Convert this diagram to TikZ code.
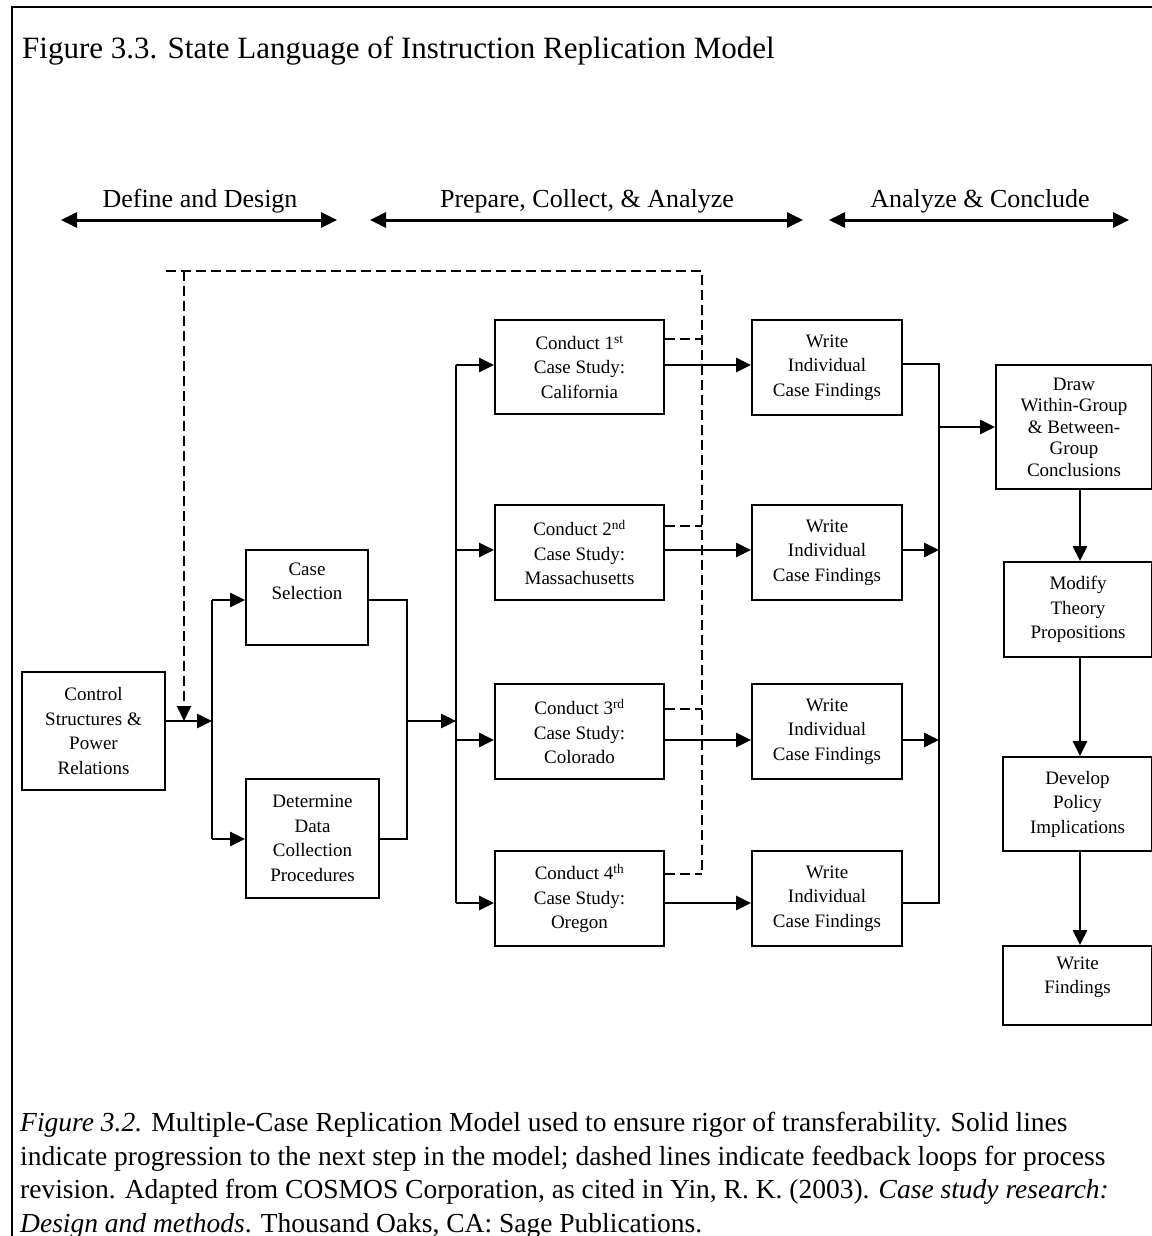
\documentclass[tikz,border=0pt]{standalone}
\usepackage{fontspec}
\setmainfont{Liberation Serif}
\usetikzlibrary{arrows.meta}
\newcommand\boxfont{\fontsize{19}{24.5}\selectfont}
\newcommand\tightboxfont{\fontsize{19}{21.5}\selectfont}

\begin{document}
\begin{tikzpicture}[x=1pt,y=-1pt,
  box/.style={draw, line width=1.8pt, align=center, inner sep=0pt, font=\boxfont},
  boxtext/.style={align=center, inner sep=0pt, font=\boxfont, anchor=base},
  tip/.style={-{Triangle[length=15pt,width=14pt]}},
  conn/.style={line width=2.6pt},
  flow/.style={conn, tip},
  feedback/.style={line width=2pt, dash pattern=on 10pt off 5pt},
  phase/.style={line width=3pt, {Triangle[length=16pt,width=15pt]}-{Triangle[length=16pt,width=15pt]}},
  phasetext/.style={font=\fontsize{26}{30}\selectfont, anchor=base, inner sep=0pt},
  captext/.style={font=\fontsize{27.5}{34}\selectfont, anchor=base west, inner sep=0pt},
]
\useasboundingbox (0,0) rectangle (1151,1236);

% page frame
\draw[line width=2pt] (12,1240) -- (12,7) -- (1160,7);

% title
\node[captext, font=\fontsize{31}{36}\selectfont] (title) at (22,59)
  {Figure 3.3. State Language of Instruction Replication Model};

% phase headings
\node[phasetext] (ph1) at (200,207) {Define and Design};
\node[phasetext] (ph2) at (587,207) {Prepare, Collect, \& Analyze};
\node[phasetext] (ph3) at (980,207) {Analyze \& Conclude};
\coordinate (ph1a) at (61,220);  \coordinate (ph1b) at (337,220);
\coordinate (ph2a) at (370,220); \coordinate (ph2b) at (803,220);
\coordinate (ph3a) at (829,220); \coordinate (ph3b) at (1129,220);
\draw[phase] (ph1a) -- (ph1b);
\draw[phase] (ph2a) -- (ph2b);
\draw[phase] (ph3a) -- (ph3b);

% boxes
\node[box, minimum width=143pt, minimum height=118pt] (ctrl) at (93.5,731)
  {Control\\Structures \&\\Power\\Relations};
\node[box, minimum width=122pt, minimum height=95pt] (cs) at (307,597.5) {};
\node[boxtext] (cstext) at ([yshift=-50.5pt]cs.north) {Case\\Selection};
\node[box, minimum width=133pt, minimum height=119pt] (dc) at (312.5,838.5)
  {Determine\\Data\\Collection\\Procedures};

\node[box, minimum width=169pt, minimum height=94pt] (c1) at (579.5,367)
  {Conduct 1\textsuperscript{st}\\Case Study:\\California};
\node[box, minimum width=169pt, minimum height=95pt] (c2) at (579.5,552.5)
  {Conduct 2\textsuperscript{nd}\\Case Study:\\Massachusetts};
\node[box, minimum width=169pt, minimum height=95pt] (c3) at (579.5,731.5)
  {Conduct 3\textsuperscript{rd}\\Case Study:\\Colorado};
\node[box, minimum width=169pt, minimum height=95pt] (c4) at (579.5,898.5)
  {Conduct 4\textsuperscript{th}\\Case Study:\\Oregon};

\node[box, minimum width=150pt, minimum height=95pt] (w1) at (827,367.5)
  {Write\\Individual\\Case Findings};
\node[box, minimum width=150pt, minimum height=95pt] (w2) at (827,552.5)
  {Write\\Individual\\Case Findings};
\node[box, minimum width=150pt, minimum height=95pt] (w3) at (827,731.5)
  {Write\\Individual\\Case Findings};
\node[box, minimum width=150pt, minimum height=95pt] (w4) at (827,898.5)
  {Write\\Individual\\Case Findings};

\node[box, font=\tightboxfont, minimum width=156pt, minimum height=124pt] (dr) at (1074,427)
  {Draw\\Within-Group\\\& Between-\\Group\\Conclusions};
\node[box, minimum width=148pt, minimum height=95pt] (mo) at (1078,609.5)
  {Modify\\Theory\\Propositions};
\node[box, minimum width=149pt, minimum height=94pt] (dv) at (1077.5,804)
  {Develop\\Policy\\Implications};
\node[box, minimum width=149pt, minimum height=79pt] (wf) at (1077.5,985.5) {};
\node[boxtext] (wftext) at ([yshift=-48.5pt]wf.north) {Write\\Findings};

% junction points
\coordinate (ja) at (212,600);  \coordinate (jb) at (212,839);  \coordinate (jin) at (212,721);
\coordinate (ka) at (407,600);  \coordinate (kb) at (407,839);  \coordinate (kout) at (407,721);
\coordinate (la) at (456,365);  \coordinate (lb) at (456,550);
\coordinate (lc) at (456,740);  \coordinate (ld) at (456,903);  \coordinate (lin) at (456,721);
\coordinate (ma) at (939,364);  \coordinate (mb) at (939,550);
\coordinate (mc) at (939,740);  \coordinate (md) at (939,903);  \coordinate (mout) at (939,427);
\coordinate (col) at (1080,0);

% feedback loops (dashed)
\coordinate (fa) at (166,271); \coordinate (fb) at (184,271);
\coordinate (fc) at (702,271); \coordinate (fd) at (702,874);
\coordinate (f1) at (702,339); \coordinate (f2) at (702,526);
\coordinate (f3) at (702,709);
\draw[feedback] (fa) -- (fc) -- (fd);
\draw[feedback] (c1.east|-f1) -- (f1);
\draw[feedback] (c2.east|-f2) -- (f2);
\draw[feedback] (c3.east|-f3) -- (f3);
\draw[feedback] (c4.east|-fd) -- (fd);
\draw[feedback, tip] (fb) -- (fb|-jin);

% define and design
\draw[flow] (ctrl.east|-jin) -- (jin);
\draw[conn] (ja) -- (jb);
\draw[flow] (ja) -- (cs.west|-ja);
\draw[flow] (jb) -- (dc.west|-jb);
\draw[conn] (cs.east|-ka) -- (ka) -- (kb) -- (dc.east|-kb);
\draw[flow] (kout) -- (lin);

% case studies
\draw[conn] (la) -- (ld);
\draw[flow] (la) -- (c1.west|-la);
\draw[flow] (lb) -- (c2.west|-lb);
\draw[flow] (lc) -- (c3.west|-lc);
\draw[flow] (ld) -- (c4.west|-ld);
\draw[flow] (c1.east|-la) -- (w1.west|-la);
\draw[flow] (c2.east|-lb) -- (w2.west|-lb);
\draw[flow] (c3.east|-lc) -- (w3.west|-lc);
\draw[flow] (c4.east|-ld) -- (w4.west|-ld);

% findings
\draw[conn] (w1.east|-ma) -- (ma) -- (md) -- (w4.east|-md);
\draw[flow] (w2.east|-mb) -- (mb);
\draw[flow] (w3.east|-mc) -- (mc);
\draw[flow] (mout) -- (dr.west|-mout);
\draw[flow] (dr.south-|col) -- (mo.north-|col);
\draw[flow] (mo.south-|col) -- (dv.north-|col);
\draw[flow] (dv.south-|col) -- (wf.north-|col);

% caption
\node[captext] (cap1) at (20,1131) {\textit{Figure 3.2.} Multiple-Case Replication Model used to ensure rigor of transferability. Solid lines};
\node[captext] (cap2) at (20,1165) {indicate progression to the next step in the model; dashed lines indicate feedback loops for process};
\node[captext] (cap3) at (20,1198) {revision. Adapted from COSMOS Corporation, as cited in Yin, R. K. (2003). \textit{Case study research:}};
\node[captext] (cap4) at (20,1232) {\textit{Design and methods}. Thousand Oaks, CA: Sage Publications.};
\end{tikzpicture}
\end{document}
